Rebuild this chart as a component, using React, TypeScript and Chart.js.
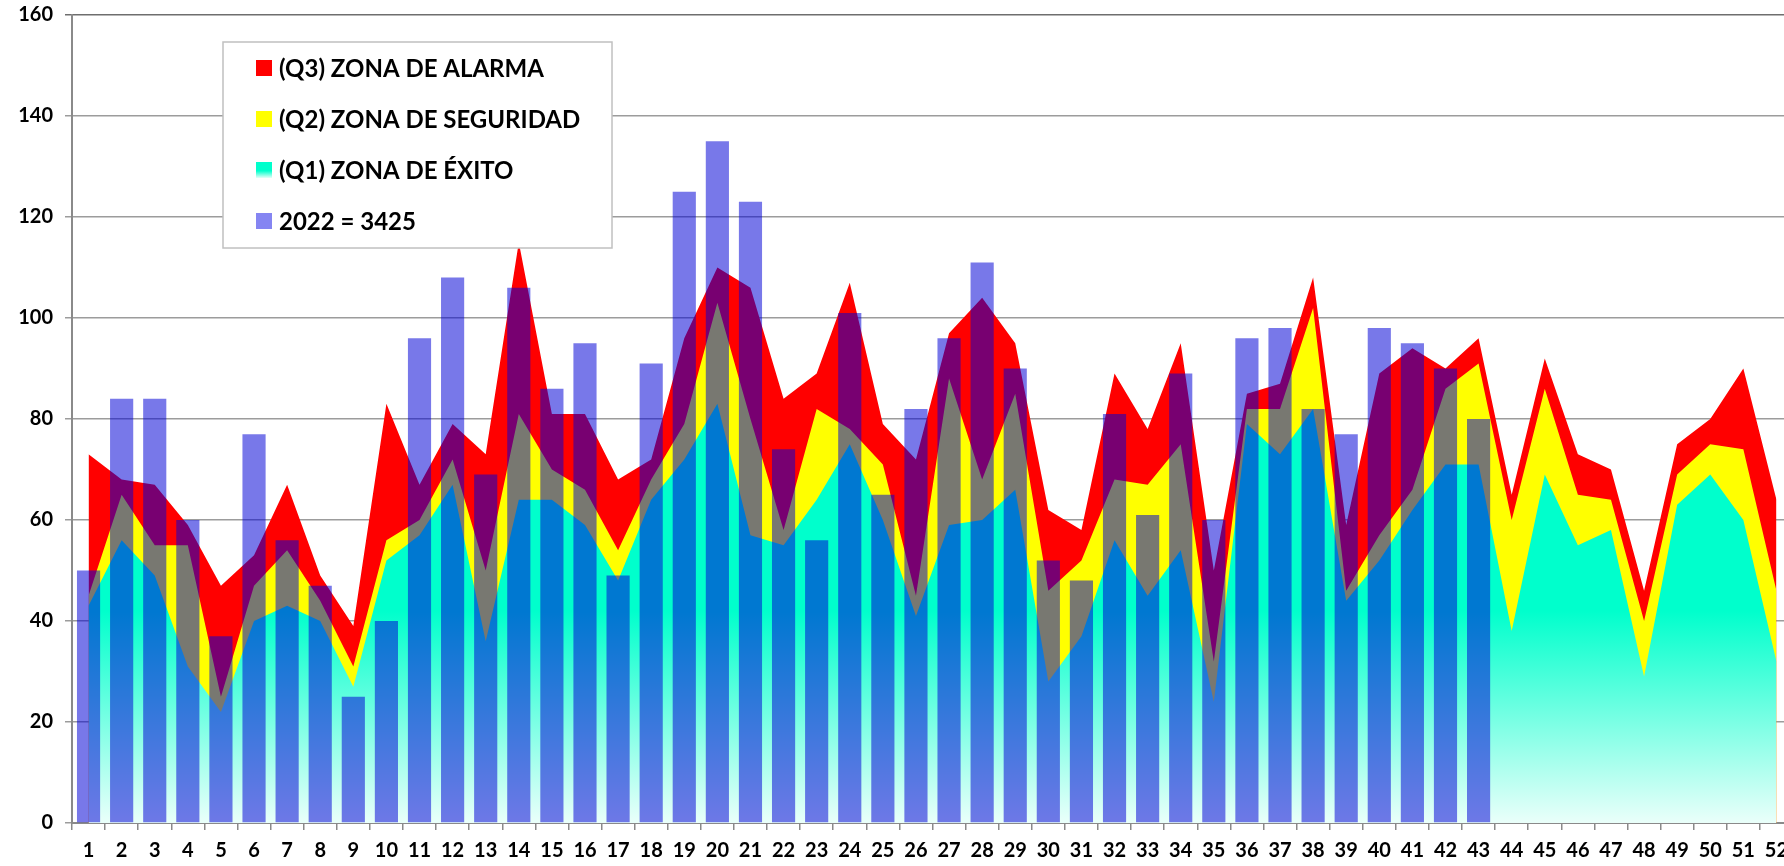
import React, { useEffect, useRef } from 'react';
import { Chart, registerables } from 'chart.js';

Chart.register(...registerables);

const weeks = ['1','2','3','4','5','6','7','8','9','10','11','12','13','14','15','16','17','18','19','20','21','22','23','24','25','26','27','28','29','30','31','32','33','34','35','36','37','38','39','40','41','42','43','44','45','46','47','48','49','50','51','52'];

const seriesNames = ['(Q3) ZONA DE ALARMA', '(Q2) ZONA DE SEGURIDAD', '(Q1) ZONA DE ÉXITO', '2022 = 3425'];

const q3Alarma = [73,68,67,59,47,53,67,49,39,83, 67,79,73,115,81,81,68,72,96,110, 106,84,89,107,79,72,97,104,95,62, 58,89,78,95,50,85,87,108,59,89, 94,90,96,65,92,73,70,46,75,80, 90,64];
const q2Seguridad = [45,65,55,55,25,47,54,44,31,56, 60,72,50,81,70,66,54,68,79,103, 80,58,82,78,71,45,88,68,85,46, 52,68,67,75,32,82,82,102,46,57, 66,86,91,60,86,65,64,40,69,75, 74,46];
const q1Exito = [43,56,49,31,22,40,43,40,27,52, 57,67,36,64,64,59,48,64,72,83, 57,55,64,75,60,41,59,60,66,28, 37,56,45,54,24,79,73,82,44,52, 62,71,71,38,69,55,58,29,63,69, 60,32];
const year2022 = [50,84,84,60,37,77,56,47,25,40, 96,108,69,106,86,95,49,91,125,135, 123,74,56,101,65,82,96,111,90,52, 48,81,61,89,60,96,98,82,77,98, 95,90,80];

const yMin = 0;
const yMax = 160;
const yStep = 20;

const FONT = 'Lato, "Open Sans", sans-serif';

const cyanGradient = (ctx: any) => {
  const chart = ctx.chart;
  const area = chart.chartArea;
  if (!area) return '#00FFCC';
  const y = chart.scales.y;
  const top = y.getPixelForValue(42);
  const bottom = y.getPixelForValue(0);
  const g = chart.ctx.createLinearGradient(0, top, 0, bottom);
  g.addColorStop(0, '#00FFCC');
  g.addColorStop(1, '#EAFFFA');
  return g;
};

const legendBoxPlugin = {
  id: 'legendBox',
  afterDraw(chart: any) {
    const c = chart.ctx;
    const box = { x: 223, y: 42, w: 389, h: 206 };
    c.save();
    c.fillStyle = '#ffffff';
    c.fillRect(box.x, box.y, box.w, box.h);
    c.strokeStyle = '#c0c0c0';
    c.lineWidth = 1.5;
    c.strokeRect(box.x, box.y, box.w, box.h);
    const swatches = ['#FF0000', '#FFFF00', 'cyan', '#8585F2'];
    chart.data.datasets.forEach((ds: any, i: number) => {
      const yc = 68 + i * 51;
      if (swatches[i] === 'cyan') {
        const g = c.createLinearGradient(0, yc - 8, 0, yc + 8);
        g.addColorStop(0, '#00FFCC');
        g.addColorStop(0.55, '#00FFCC');
        g.addColorStop(1, '#E6FFF8');
        c.fillStyle = g;
      } else {
        c.fillStyle = swatches[i];
      }
      c.fillRect(256, yc - 8, 16, 16);
      c.fillStyle = '#000000';
      c.font = `bold 24px ${FONT}`;
      c.textBaseline = 'middle';
      c.textAlign = 'left';
      c.fillText(ds.label, 279, yc + 1);
    });
    c.restore();
  },
};

export default function App() {
  const ref = useRef<HTMLCanvasElement | null>(null);

  useEffect(() => {
    if (!ref.current) return;
    const tickFont = { family: FONT, weight: 'bold' as const, size: 20 };
    const chart = new Chart(ref.current, {
      type: 'bar',
      data: {
        labels: weeks,
        datasets: [
          {
            type: 'line',
            label: seriesNames[0],
            data: q3Alarma,
            backgroundColor: '#FF0000',
            borderColor: 'rgba(0,0,0,0)',
            borderWidth: 0,
            pointRadius: 0,
            tension: 0,
            fill: 'origin',
            order: 3,
          } as any,
          {
            type: 'line',
            label: seriesNames[1],
            data: q2Seguridad,
            backgroundColor: '#FFFF00',
            borderColor: 'rgba(0,0,0,0)',
            borderWidth: 0,
            pointRadius: 0,
            tension: 0,
            fill: 'origin',
            order: 2,
          } as any,
          {
            type: 'line',
            label: seriesNames[2],
            data: q1Exito,
            backgroundColor: cyanGradient,
            borderColor: 'rgba(0,0,0,0)',
            borderWidth: 0,
            pointRadius: 0,
            tension: 0,
            fill: 'origin',
            order: 1,
          } as any,
          {
            type: 'bar',
            label: seriesNames[3],
            data: year2022,
            backgroundColor: 'rgba(0,0,214,0.53)',
            borderWidth: 0,
            barPercentage: 0.7,
            categoryPercentage: 1,
            order: 0,
          } as any,
        ],
      },
      options: {
        animation: false,
        responsive: false,
        devicePixelRatio: 1,
        layout: { padding: { top: 15, right: 7, left: 0, bottom: 0 } },
        plugins: {
          legend: { display: false },
          tooltip: { enabled: false },
        },
        scales: {
          x: {
            offset: true,
            grid: {
              display: true,
              drawOnChartArea: false,
              drawTicks: true,
              tickLength: 7,
              offset: true,
              color: '#8a8a8a',
              lineWidth: 1.5,
            },
            border: { display: true, color: '#8a8a8a', width: 2 },
            ticks: {
              color: '#000000',
              font: tickFont,
              padding: 9,
              maxRotation: 0,
              autoSkip: false,
            },
            afterFit: (s: any) => {
              s.height = 43;
              s.paddingLeft = 0;
              s.paddingRight = 0;
            },
          },
          y: {
            min: yMin,
            max: yMax,
            ticks: { stepSize: yStep, color: '#000000', font: tickFont, padding: 12 },
            grid: {
              color: (c: any) => (c.tick && c.tick.value === yMax ? '#6e6e6e' : '#9c9c9c'),
              lineWidth: 1.5,
              tickLength: 7,
              drawTicks: true,
            },
            border: { display: true, color: '#8a8a8a', width: 2 },
            afterFit: (s: any) => {
              s.width = 72;
              s.paddingTop = 0;
              s.paddingBottom = 0;
            },
          },
        },
      } as any,
      plugins: [legendBoxPlugin],
    });
    if ((document as any).fonts && (document as any).fonts.load) {
      (document as any).fonts.load(`bold 20px Lato`).then(() => chart.update()).catch(() => {});
    }
    return () => chart.destroy();
  }, []);

  return (
    <div style={{ position: 'fixed', left: 0, top: 0, width: '100vw', height: '100vh', overflow: 'hidden', background: '#ffffff' }}>
      <canvas ref={ref} width={1800} height={866} style={{ display: 'block', width: '1800px', height: '866px' }} />
    </div>
  );
}
